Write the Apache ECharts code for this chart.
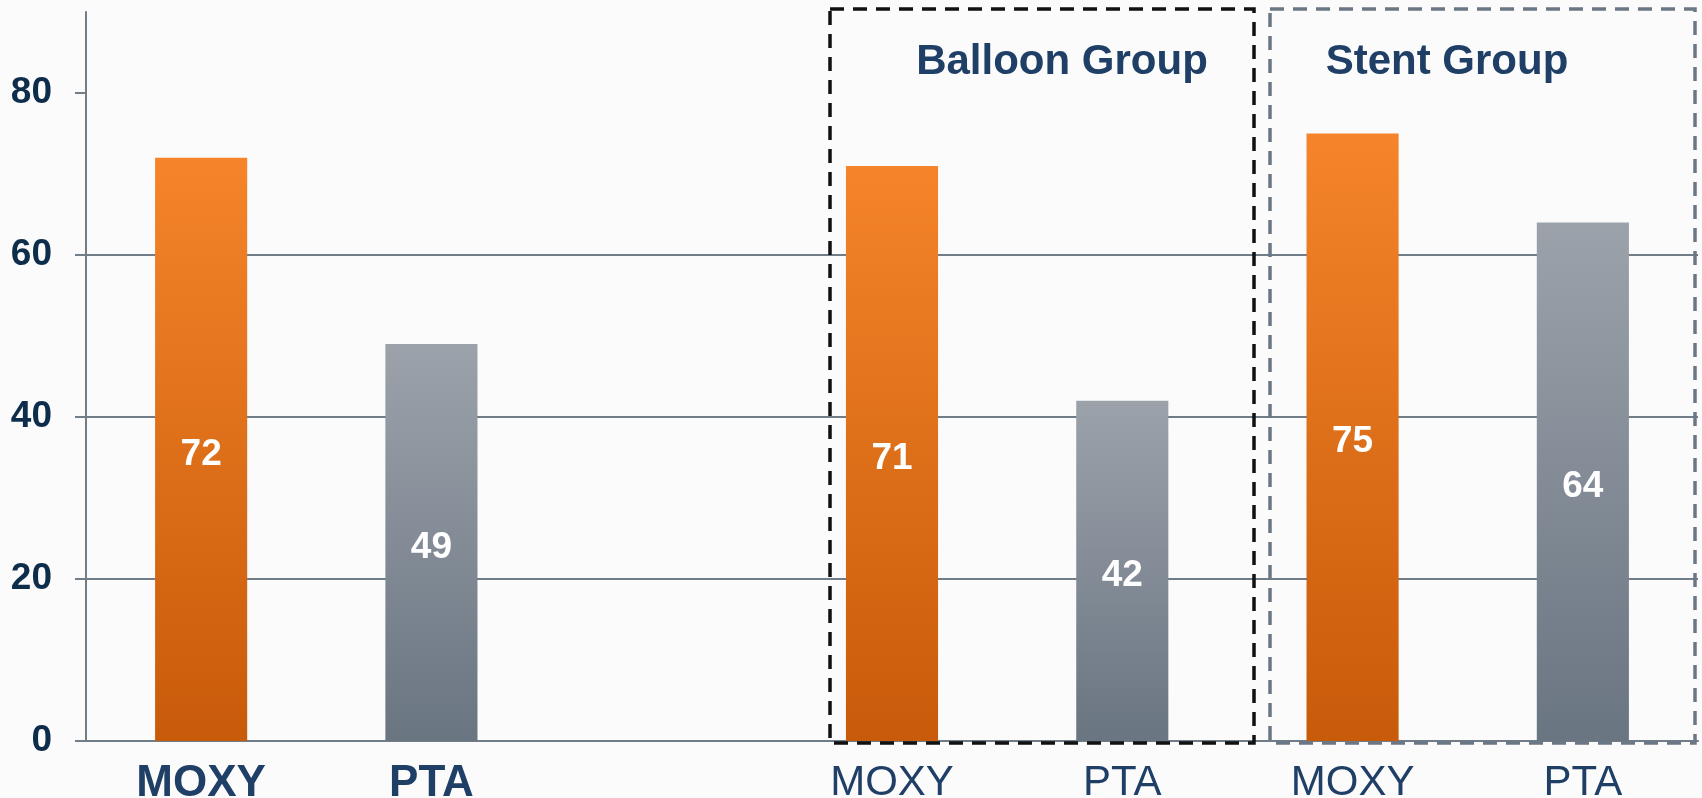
<!DOCTYPE html>
<html>
<head>
<meta charset="utf-8">
<style>
  html, body { margin: 0; padding: 0; background: #fbfbfb; }
  #chart { width: 1702px; height: 798px; }
</style>
<script src="https://cdn.jsdelivr.net/npm/echarts@6/dist/echarts.min.js"></script>
</head>
<body>
<div id="chart"></div>
<script>
// categories (the empty slot is the gap between the overall pair and the groups)
const categories = ['MOXY', 'PTA', '', 'MOXY', 'PTA', 'MOXY', 'PTA'];
const boldCategories = [true, true, false, false, false, false, false];
const moxyValues = [72, null, null, 71, null, 75, null];
const ptaValues = [null, 49, null, null, 42, null, 64];
const yTicks = [0, 20, 40, 60, 80];

const navy = '#1f3f66';
const gridGrey = '#717c89';

const orange = new echarts.graphic.LinearGradient(0, 0, 0, 1, [
  { offset: 0, color: '#f5842a' },
  { offset: 1, color: '#c85b0a' }
]);
const grey = new echarts.graphic.LinearGradient(0, 0, 0, 1, [
  { offset: 0, color: '#9ba2aa' },
  { offset: 1, color: '#6a7582' }
]);

const chart = echarts.init(document.getElementById('chart'));

const barLabel = {
  show: true,
  position: 'inside',
  offset: [0, 5],
  color: '#ffffff',
  fontFamily: 'Liberation Sans, Arial, sans-serif',
  fontWeight: 'bold',
  fontSize: 37
};

const option = {
  backgroundColor: '#fbfbfb',
  animation: false,
  grid: { left: 86, right: 4, top: 12, bottom: 57, containLabel: false, outerBoundsMode: 'none' },
  xAxis: {
    type: 'category',
    data: categories.map((c, i) => ({
      value: c,
      textStyle: { fontWeight: boldCategories[i] ? 'bold' : 'normal', fontSize: boldCategories[i] ? 44 : 42 }
    })),
    axisTick: { show: false },
    axisLine: { lineStyle: { color: gridGrey, width: 2 } },
    axisLabel: {
      interval: 0,
      margin: 21,
      color: navy,
      fontFamily: 'Liberation Sans, Arial, sans-serif'
    }
  },
  yAxis: {
    type: 'value',
    min: 0,
    max: 90,
    interval: 20,
    axisLine: { show: true, lineStyle: { color: gridGrey, width: 2 } },
    axisTick: { show: true, length: 11, customValues: yTicks, lineStyle: { color: gridGrey, width: 2 } },
    axisLabel: {
      customValues: yTicks,
      margin: 34,
      color: '#0d2d4a',
      fontWeight: 'bold',
      fontSize: 37,
      fontFamily: 'Liberation Sans, Arial, sans-serif'
    },
    splitLine: { show: true, showMaxLine: false, lineStyle: { color: gridGrey, width: 2 } }
  },
  series: [
    {
      name: 'MOXY',
      type: 'bar',
      stack: 'one',
      barWidth: '40%',
      data: moxyValues,
      itemStyle: { color: orange },
      label: barLabel
    },
    {
      name: 'PTA',
      type: 'bar',
      stack: 'one',
      barWidth: '40%',
      data: ptaValues,
      itemStyle: { color: grey },
      label: barLabel
    }
  ],
  graphic: [
    {
      type: 'rect',
      shape: { x: 830, y: 9, width: 424, height: 734 },
      style: { fill: 'none', stroke: '#111111', lineWidth: 3.5, lineDash: [14, 9] },
      z: 10
    },
    {
      type: 'rect',
      shape: { x: 1270, y: 9, width: 425, height: 734 },
      style: { fill: 'none', stroke: '#6b7785', lineWidth: 3.5, lineDash: [14, 9] },
      z: 10
    },
    {
      type: 'text',
      style: {
        text: 'Balloon Group', x: 1062, y: 62, align: 'center', verticalAlign: 'middle',
        fill: navy, font: 'bold 42px "Liberation Sans", Arial, sans-serif'
      },
      z: 11
    },
    {
      type: 'text',
      style: {
        text: 'Stent Group', x: 1447, y: 62, align: 'center', verticalAlign: 'middle',
        fill: navy, font: 'bold 42px "Liberation Sans", Arial, sans-serif'
      },
      z: 11
    }
  ]
};

chart.setOption(option);
</script>
</body>
</html>
